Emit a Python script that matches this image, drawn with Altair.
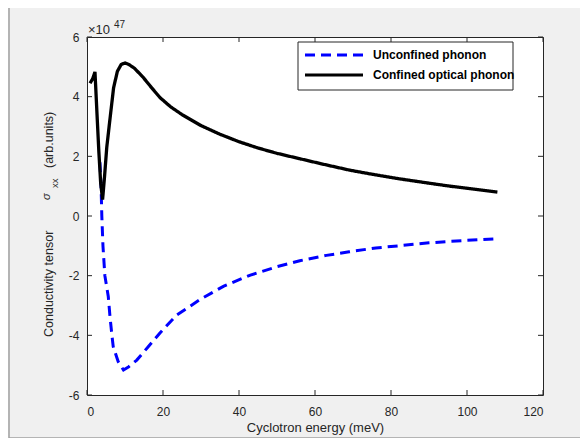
import altair as alt
import pandas as pd

# ---- data (values in units of 1e47) ----
series_names = ["Unconfined phonon", "Confined optical phonon"]

confined_E = [0.8, 1.5, 2.1, 2.6, 3.1, 3.6, 4.1, 4.6, 5.2, 6.0, 7.0, 8.0, 9.0, 10.0,
              11.0, 12.5, 14.7, 17.0, 19.2, 22.0, 25.0, 30.0, 35.0, 40.0, 45.0,
              50.0, 56.0, 62.0, 69.0, 75.0, 82.0, 90.0, 95.5, 100.0, 108.0]
confined_s = [4.45, 4.6, 4.83, 3.5, 2.2, 1.1, 0.55, 1.3, 2.3, 3.2, 4.3, 4.85, 5.08, 5.13,
              5.08, 4.95, 4.66, 4.3, 3.97, 3.66, 3.4, 3.03, 2.74, 2.49, 2.28,
              2.1, 1.92, 1.74, 1.54, 1.4, 1.25, 1.1, 1.0, 0.93, 0.8]

unconf_E = [3.4, 3.7, 3.9, 4.2, 4.7, 5.6, 6.05, 6.5, 6.9, 8.2, 9.6, 11.0, 13.1, 16.0,
            19.2, 23.6, 30.0, 36.0, 43.0, 50.0, 56.0, 63.0, 69.0, 76.0, 82.0, 90.0,
            95.5, 108.0]
unconf_s = [1.8, 1.0, 0.0, -1.0, -2.0, -2.7, -3.37, -3.93, -4.38, -4.88, -5.16, -5.05,
            -4.83, -4.4, -3.92, -3.32, -2.78, -2.35, -1.98, -1.7, -1.5, -1.32, -1.2,
            -1.07, -1.0, -0.9, -0.85, -0.76]

x_ticks = [0, 20, 40, 60, 80, 100, 120]
y_ticks = [-6, -4, -2, 0, 2, 4, 6]

W, H = 456, 358
INK = "#262626"
FONT = "Liberation Sans"

df_u = pd.DataFrame({"E": unconf_E, "s": unconf_s, "series": series_names[0]})
df_c = pd.DataFrame({"E": confined_E, "s": confined_s, "series": series_names[1]})
df_xt = pd.DataFrame({"E": x_ticks})
df_yt = pd.DataFrame({"s": y_ticks})
one = pd.DataFrame({"a": [0]})

xs = alt.Scale(domain=[0, 120], nice=False, zero=False)
ys = alt.Scale(domain=[-6, 6], nice=False, zero=False)

x_axis = alt.Axis(values=x_ticks, grid=False, ticks=False, domain=False,
                  labelFontSize=12, labelColor=INK, labelFont=FONT, labelPadding=11,
                  title="Cyclotron energy (meV)", titleFont=FONT, titleFontSize=13,
                  titleFontWeight="normal", titleColor=INK, titlePadding=4)
y_axis = alt.Axis(values=y_ticks, grid=False, ticks=False, domain=False,
                  labelFontSize=12, labelColor=INK, labelFont=FONT, labelPadding=8,
                  labelExpr="'' + datum.value", title=None)

color = alt.Color("series:N", scale=alt.Scale(domain=series_names, range=["#0000ff", "#000000"]), legend=None)
dash = alt.StrokeDash("series:N", scale=alt.Scale(domain=series_names, range=[[10, 6], [1, 0]]), legend=None)

blue = alt.Chart(df_u).mark_line(strokeWidth=3, clip=True).encode(
    x=alt.X("E:Q", scale=xs, axis=x_axis),
    y=alt.Y("s:Q", scale=ys, axis=y_axis),
    color=color, strokeDash=dash)
black = alt.Chart(df_c).mark_line(strokeWidth=3.3, clip=True).encode(
    x=alt.X("E:Q", scale=xs), y=alt.Y("s:Q", scale=ys), color=color, strokeDash=dash)

tl = 5
xt_bot = alt.Chart(df_xt).mark_rule(color=INK, strokeWidth=1).encode(
    x=alt.X("E:Q", scale=xs), y=alt.value(H), y2=alt.value(H - tl))
xt_top = alt.Chart(df_xt).mark_rule(color=INK, strokeWidth=1).encode(
    x=alt.X("E:Q", scale=xs), y=alt.value(0), y2=alt.value(tl))
yt_left = alt.Chart(df_yt).mark_rule(color=INK, strokeWidth=1).encode(
    y=alt.Y("s:Q", scale=ys), x=alt.value(0), x2=alt.value(tl))
yt_right = alt.Chart(df_yt).mark_rule(color=INK, strokeWidth=1).encode(
    y=alt.Y("s:Q", scale=ys), x=alt.value(W), x2=alt.value(W - tl))

def txt(s, x, y, size=13, color=INK, **kw):
    return alt.Chart(one).mark_text(font=FONT, fontSize=size, color=color, **kw).encode(
        x=alt.value(x), y=alt.value(y), text=alt.value(s))

exp1 = txt("×10", 1, -7, size=13, align="left", baseline="middle")
exp2 = txt("47", 27, -12, size=10, align="left", baseline="middle")

yt1 = txt("Conductivity tensor", -38, 300, size=12.5, angle=270, align="left", baseline="middle")
yt2 = txt("σ", -40, 163, size=11, angle=270, align="left", baseline="middle", fontStyle="italic")
yt3 = txt("xx", -32, 151, size=9.5, angle=270, align="left", baseline="middle")
yt4 = txt("(arb.units)", -38, 131, size=12.5, angle=270, align="left", baseline="middle")

# legend box (drawn by hand so the row spacing matches)
LX0, LX1, LY0, LY1 = 211, 426, 5, 53
leg_box = alt.Chart(one).mark_rect(fill="white", stroke=INK, strokeWidth=1).encode(
    x=alt.value(LX0), x2=alt.value(LX1), y=alt.value(LY0), y2=alt.value(LY1))
leg_l1 = alt.Chart(one).mark_rule(color="#0000ff", strokeWidth=3, strokeDash=[10, 6]).encode(
    x=alt.value(218), x2=alt.value(276), y=alt.value(18))
leg_l2 = alt.Chart(one).mark_rule(color="#000000", strokeWidth=3).encode(
    x=alt.value(218), x2=alt.value(276), y=alt.value(38))
leg_t1 = txt(series_names[0], 286, 18, size=12, color="black", align="left", baseline="middle", fontWeight="bold")
leg_t2 = txt(series_names[1], 286, 38, size=12, color="black", align="left", baseline="middle", fontWeight="bold")

border_l = alt.Chart(one).mark_rule(color="#a0a0a0", strokeWidth=1.5).encode(
    x=alt.value(-78), y=alt.value(-29), y2=alt.value(401))
border_b = alt.Chart(one).mark_rule(color="#a0a0a0", strokeWidth=1.5).encode(
    x=alt.value(-78), x2=alt.value(493), y=alt.value(401))

chart = alt.layer(blue, black, xt_bot, xt_top, yt_left, yt_right,
                  exp1, exp2, yt1, yt2, yt3, yt4,
                  leg_box, leg_l1, leg_l2, leg_t1, leg_t2,
                  border_l, border_b).properties(
    width=W, height=H,
    autosize=alt.AutoSizeParams(type="none"),
    padding={"left": 79, "top": 29, "right": 37, "bottom": 43},
    background="#f0f0f0",
).configure_view(
    stroke=INK, strokeWidth=1, fill="white"
)

chart.save("out.html", embed_options={"renderer": "svg", "actions": False})
